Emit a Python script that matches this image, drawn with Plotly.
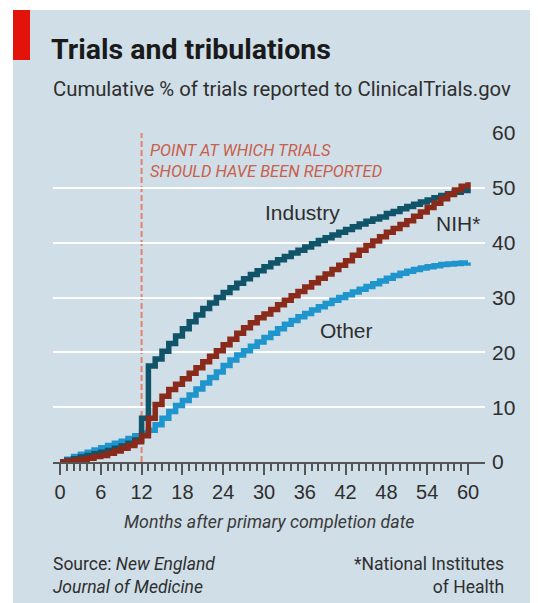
import plotly.graph_objects as go

months = list(range(0, 61))

industry = [0.0, 0.3, 0.6, 0.9, 1.2, 1.5, 1.8, 2.1, 2.5, 2.9, 3.4, 4.0, 8.0, 17.5, 18.8,
            20.2, 21.6, 23.0, 24.3, 25.6, 26.8, 28.0, 29.0, 30.0, 30.9, 31.8, 32.6, 33.4,
            34.2, 34.9, 35.6, 36.3, 36.9, 37.5, 38.1, 38.6, 39.2, 39.8, 40.4, 40.9, 41.4,
            41.9, 42.4, 42.9, 43.4, 43.9, 44.3, 44.7, 45.3, 45.7, 46.2, 46.6, 47.0, 47.4,
            47.8, 48.2, 48.6, 48.9, 49.2, 49.5, 49.8]

nih = [0.0, 0.2, 0.3, 0.5, 0.7, 1.0, 1.2, 1.6, 2.0, 2.5, 3.0, 3.7, 4.8, 8.0, 10.5,
       12.0, 13.2, 14.2, 15.2, 16.2, 17.2, 18.3, 19.3, 20.3, 21.4, 22.4, 23.5, 24.5,
       25.4, 26.3, 27.0, 27.8, 28.7, 29.5, 30.3, 31.1, 31.9, 32.7, 33.5, 34.3, 35.1,
       35.9, 36.7, 37.7, 38.6, 39.5, 40.3, 41.1, 41.9, 42.6, 43.3, 44.0, 44.8, 45.6,
       46.4, 47.2, 48.0, 48.8, 49.6, 50.3, 51.0]

other = [0.0, 0.5, 1.0, 1.4, 1.8, 2.2, 2.6, 3.0, 3.4, 3.8, 4.3, 4.8, 5.3, 5.8, 6.8,
         8.0, 9.2, 10.3, 11.2, 12.2, 13.3, 14.4, 15.4, 16.4, 17.6, 18.6, 19.5, 20.3,
         21.1, 21.9, 22.7, 23.5, 24.3, 25.1, 25.8, 26.5, 27.1, 27.7, 28.3, 28.9, 29.5,
         30.0, 30.5, 31.0, 31.5, 32.0, 32.5, 33.0, 33.5, 34.0, 34.4, 34.8, 35.1, 35.4,
         35.6, 35.8, 36.0, 36.1, 36.2, 36.3, 36.4]

x_ticks = list(range(0, 61, 6))
y_ticks = list(range(0, 61, 10))
deadline = 12

# page body has an 8px default margin; figure is sized/offset to compensate
OFF = 8
W, H = 538 - OFF, 603 - OFF
L, R, T, B = 53 - OFF, 485 - OFF, 133 - OFF, 462 - OFF


def px(p):
    return (p - OFF - L) / (R - L)


def py(p):
    return (B - (p - OFF)) / (B - T)


BG = "#d0dee7"
C_IND = "#0f5468"
C_NIH = "#8a2a1a"
C_OTH = "#1e95cc"
TXT = "#2e2e2e"
HEAD = "Roboto, Lato, sans-serif"
SANS = "Liberation Sans, Arial, sans-serif"

fig = go.Figure()
for name, vals, col in [("Other", other, C_OTH), ("Industry", industry, C_IND), ("NIH*", nih, C_NIH)]:
    fig.add_trace(go.Scatter(x=months, y=vals, mode="lines", name=name,
                             line=dict(color=col, width=5.5, shape="hv"),
                             cliponaxis=False, showlegend=False, hoverinfo="x+y+name"))

shapes = [
    dict(type="rect", xref="paper", yref="paper", x0=px(13), x1=px(560), y0=py(620), y1=py(10),
         fillcolor=BG, line=dict(width=0), layer="below"),
    dict(type="rect", xref="paper", yref="paper", x0=px(13), x1=px(30), y0=py(60), y1=py(10),
         fillcolor="#e3120b", line=dict(width=0), layer="below"),
    dict(type="line", xref="x", yref="y", x0=deadline, x1=deadline, y0=0, y1=60,
         line=dict(color="#e6806b", width=2, dash="6px,3px"), layer="below"),
]


def ann(text, x, y, size, family=HEAD, color=TXT, xanchor="center", align="center"):
    return dict(text=text, x=px(x), y=py(y), xref="paper", yref="paper",
                xanchor=xanchor, yanchor="middle", align=align, showarrow=False,
                font=dict(family=family, size=size, color=color))


annotations = [
    ann("<b>Trials and tribulations</b>", 49, 50, 28.5, color="#1a1a1a", xanchor="left", align="left"),
    ann("Cumulative % of trials reported to ClinicalTrials.gov", 51, 89, 20.3,
        xanchor="left", align="left"),
    ann("<i>POINT AT WHICH TRIALS<br>SHOULD HAVE BEEN REPORTED</i>", 148, 161, 16.5,
        color="#c9604c", xanchor="left", align="left"),
    ann("Industry", 302, 212, 21, family=SANS),
    ann("NIH*", 458, 223, 21, family=SANS),
    ann("Other", 346, 330, 21, family=SANS),
    ann("<i>Months after primary completion date</i>", 269, 521, 17.8, color="#3a3a3a"),
    ann("Source: <i>New England<br>Journal of Medicine</i>", 51, 575, 17.5,
        xanchor="left", align="left"),
    ann("*National Institutes<br>of Health", 506, 575, 17.5, xanchor="right", align="right"),
]

fig.update_layout(
    width=W, height=H, autosize=False,
    margin=dict(l=L, r=W - R, t=T, b=H - B, pad=0),
    paper_bgcolor="white", plot_bgcolor="rgba(0,0,0,0)",
    shapes=shapes, annotations=annotations,
    xaxis=dict(range=[-1.03, 62.5], tickmode="array", tickvals=x_ticks,
               ticks="outside", ticklen=11, tickwidth=1.5, tickcolor="#555",
               showline=True, linecolor="#555", linewidth=2, showgrid=False, zeroline=False,
               tickfont=dict(family=SANS, size=20, color=TXT),
               minor=dict(tickmode="array", tickvals=months, ticks="outside", ticklen=7,
                          tickwidth=1.5, tickcolor="#555", showgrid=False),
               fixedrange=True),
    yaxis=dict(range=[0, 60], side="right", tickmode="array", tickvals=y_ticks,
               showgrid=True, gridcolor="white", gridwidth=2, zeroline=False,
               ticks="", showline=False, ticklabelstandoff=6,
               tickfont=dict(family=SANS, size=21, color=TXT), fixedrange=True),
)

fig.write_html("out.html")
